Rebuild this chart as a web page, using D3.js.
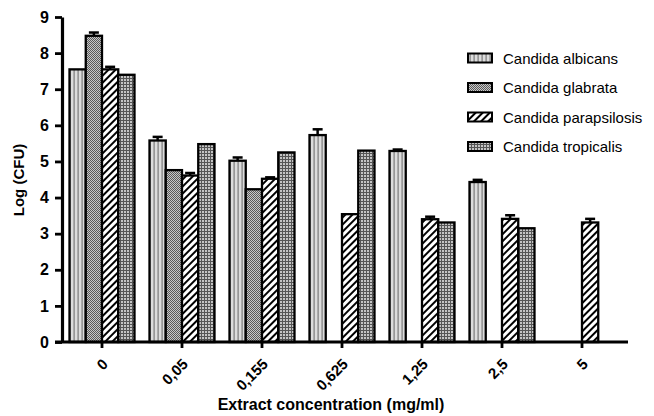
<!DOCTYPE html>
<html>
<head>
<meta charset="utf-8">
<script src="https://cdn.jsdelivr.net/npm/d3@7"></script>
<style>
  body { margin: 0; background: #fff; }
  text { font-family: "Liberation Sans", Arial, sans-serif; }
</style>
</head>
<body>
<script>
// concentrations on the x axis
const concentrations = ["0", "0,05", "0,155", "0,625", "1,25", "2,5", "5"];
const species = ["Candida albicans", "Candida glabrata", "Candida parapsilosis", "Candida tropicalis"];

// log CFU per species (null = no bar)
const albicans     = [7.55, 5.58, 5.02, 5.73, 5.29, 4.43, null];
const glabrata     = [8.48, 4.76, 4.23, null, null, null, null];
const parapsilosis = [7.55, 4.61, 4.52, 3.54, 3.40, 3.41, 3.31];
const tropicalis   = [7.40, 5.48, 5.25, 5.30, 3.31, 3.15, null];

// upper error (SD)
const albicansErr     = [0, 0.10, 0.09, 0.16, 0.04, 0.06, 0];
const glabrataErr     = [0.09, 0, 0, 0, 0, 0, 0];
const parapsilosisErr = [0.07, 0.07, 0.04, 0, 0.07, 0.1, 0.1];
const tropicalisErr   = [0, 0, 0, 0, 0, 0, 0];

const yTicks = [0, 1, 2, 3, 4, 5, 6, 7, 8, 9];

const seriesValues = [albicans, glabrata, parapsilosis, tropicalis];
const seriesErrors = [albicansErr, glabrataErr, parapsilosisErr, tropicalisErr];
const patternIds = ["pAlb", "pGla", "pPar", "pTro"];

let svg = d3.select("body").append("svg")
  .attr("width", 654)
  .attr("height", 416);

appendPatterns();

let x0 = d3.scaleBand()
  .domain(concentrations)
  .range([62, 622])
  .paddingInner(0.1875)
  .paddingOuter(0.09375);

let x1 = d3.scaleBand()
  .domain(d3.range(species.length))
  .range([0, x0.bandwidth()]);

let y = d3.scaleLinear()
  .domain([0, 9])
  .range([342, 17]);

// flatten into rows for the bars
let rows = [];
concentrations.forEach(function (c, i) {
  seriesValues.forEach(function (s, j) {
    if (s[i] != null) rows.push({ conc: c, s: j, value: s[i], err: seriesErrors[j][i] });
  });
});

// bars
svg.append("g").selectAll("rect")
  .data(rows)
  .enter().append("rect")
  .attr("x", d => x0(d.conc) + x1(d.s))
  .attr("y", d => y(d.value))
  .attr("width", x1.bandwidth())
  .attr("height", d => y(0) - y(d.value))
  .attr("fill", d => `url(#${patternIds[d.s]})`)
  .attr("stroke", "#000")
  .attr("stroke-width", 2.3);

// error bars (upper only)
let errG = svg.append("g").attr("stroke", "#000").attr("stroke-width", 2.5);
rows.filter(d => d.err > 0).forEach(function (d) {
  let cx = x0(d.conc) + x1(d.s) + x1.bandwidth() / 2;
  errG.append("line")
    .attr("x1", cx).attr("x2", cx)
    .attr("y1", y(d.value)).attr("y2", y(d.value + d.err));
  errG.append("line")
    .attr("x1", cx - 5).attr("x2", cx + 5)
    .attr("y1", y(d.value + d.err)).attr("y2", y(d.value + d.err));
});

// y axis
let yAxis = svg.append("g")
  .attr("transform", "translate(62,0)")
  .call(d3.axisLeft(y).tickValues(yTicks).tickSize(7).tickSizeOuter(0).tickPadding(6));
yAxis.select(".domain").attr("stroke-width", 3.2);
yAxis.selectAll(".tick line").attr("stroke-width", 2.8);
yAxis.selectAll(".tick text")
  .style("font-size", "16px")
  .style("font-weight", "bold")
  .attr("fill", "#000");

// x axis
let xAxis = svg.append("g")
  .attr("transform", `translate(0,${y(0)})`)
  .call(d3.axisBottom(x0).tickSize(6).tickSizeOuter(0));
xAxis.select(".domain").attr("d", "M55,0H628").attr("stroke-width", 3.2);
xAxis.selectAll(".tick line").attr("stroke-width", 2.8);
xAxis.selectAll(".tick text")
  .attr("y", 0).attr("dy", 0)
  .attr("text-anchor", "end")
  .attr("transform", "translate(7,23) rotate(-45)")
  .style("font-size", "15px")
  .style("font-weight", "bold")
  .attr("fill", "#000");

// axis titles
svg.append("text")
  .attr("x", 331)
  .attr("y", 410)
  .attr("text-anchor", "middle")
  .style("font-size", "16px")
  .style("font-weight", "bold")
  .text("Extract concentration (mg/ml)");

svg.append("text")
  .attr("transform", "rotate(-90)")
  .attr("x", -180)
  .attr("y", 24)
  .attr("text-anchor", "middle")
  .style("font-size", "15px")
  .style("font-weight", "bold")
  .text("Log (CFU)");

appendLegend();

function appendLegend() {
  let legend = svg.append("g").attr("class", "legend");
  let rowY = d3.scaleLinear().domain([0, 3]).range([58, 146.5]);

  legend.selectAll("rect")
    .data(species)
    .enter().append("rect")
    .attr("x", 468)
    .attr("y", (d, i) => rowY(i) - 4.5)
    .attr("width", 24)
    .attr("height", 9)
    .attr("fill", (d, i) => `url(#${patternIds[i]})`)
    .attr("stroke", "#000")
    .attr("stroke-width", 2);

  legend.selectAll("text")
    .data(species)
    .enter().append("text")
    .attr("x", 503)
    .attr("y", (d, i) => rowY(i) + 5.5)
    .style("font-size", "15px")
    .text(d => d);
}

function appendPatterns() {
  let defs = svg.append("defs");

  // vertical stripes, light grey
  let p1 = defs.append("pattern").attr("id", "pAlb")
    .attr("patternUnits", "userSpaceOnUse").attr("width", 4).attr("height", 4);
  p1.append("rect").attr("width", 4).attr("height", 4).attr("fill", "#dcdcdc");
  p1.append("rect").attr("x", 1.5).attr("width", 1.2).attr("height", 4).attr("fill", "#7a7a7a");

  // fine checker
  let p2 = defs.append("pattern").attr("id", "pGla")
    .attr("patternUnits", "userSpaceOnUse").attr("width", 2).attr("height", 2);
  p2.append("rect").attr("width", 2).attr("height", 2).attr("fill", "#c8c8c8");
  p2.append("rect").attr("width", 1).attr("height", 1).attr("fill", "#5a5a5a");
  p2.append("rect").attr("x", 1).attr("y", 1).attr("width", 1).attr("height", 1).attr("fill", "#5a5a5a");

  // diagonal hatching
  let p3 = defs.append("pattern").attr("id", "pPar")
    .attr("patternUnits", "userSpaceOnUse").attr("width", 5).attr("height", 5)
    .attr("patternTransform", "rotate(45)");
  p3.append("rect").attr("width", 5).attr("height", 5).attr("fill", "#fff");
  p3.append("rect").attr("width", 2).attr("height", 5).attr("fill", "#000");

  // grid
  let p4 = defs.append("pattern").attr("id", "pTro")
    .attr("patternUnits", "userSpaceOnUse").attr("width", 3).attr("height", 3);
  p4.append("rect").attr("width", 3).attr("height", 3).attr("fill", "#c4c4c4");
  p4.append("rect").attr("width", 3).attr("height", 1).attr("fill", "#555");
  p4.append("rect").attr("width", 1).attr("height", 3).attr("fill", "#555");
}
</script>
</body>
</html>
